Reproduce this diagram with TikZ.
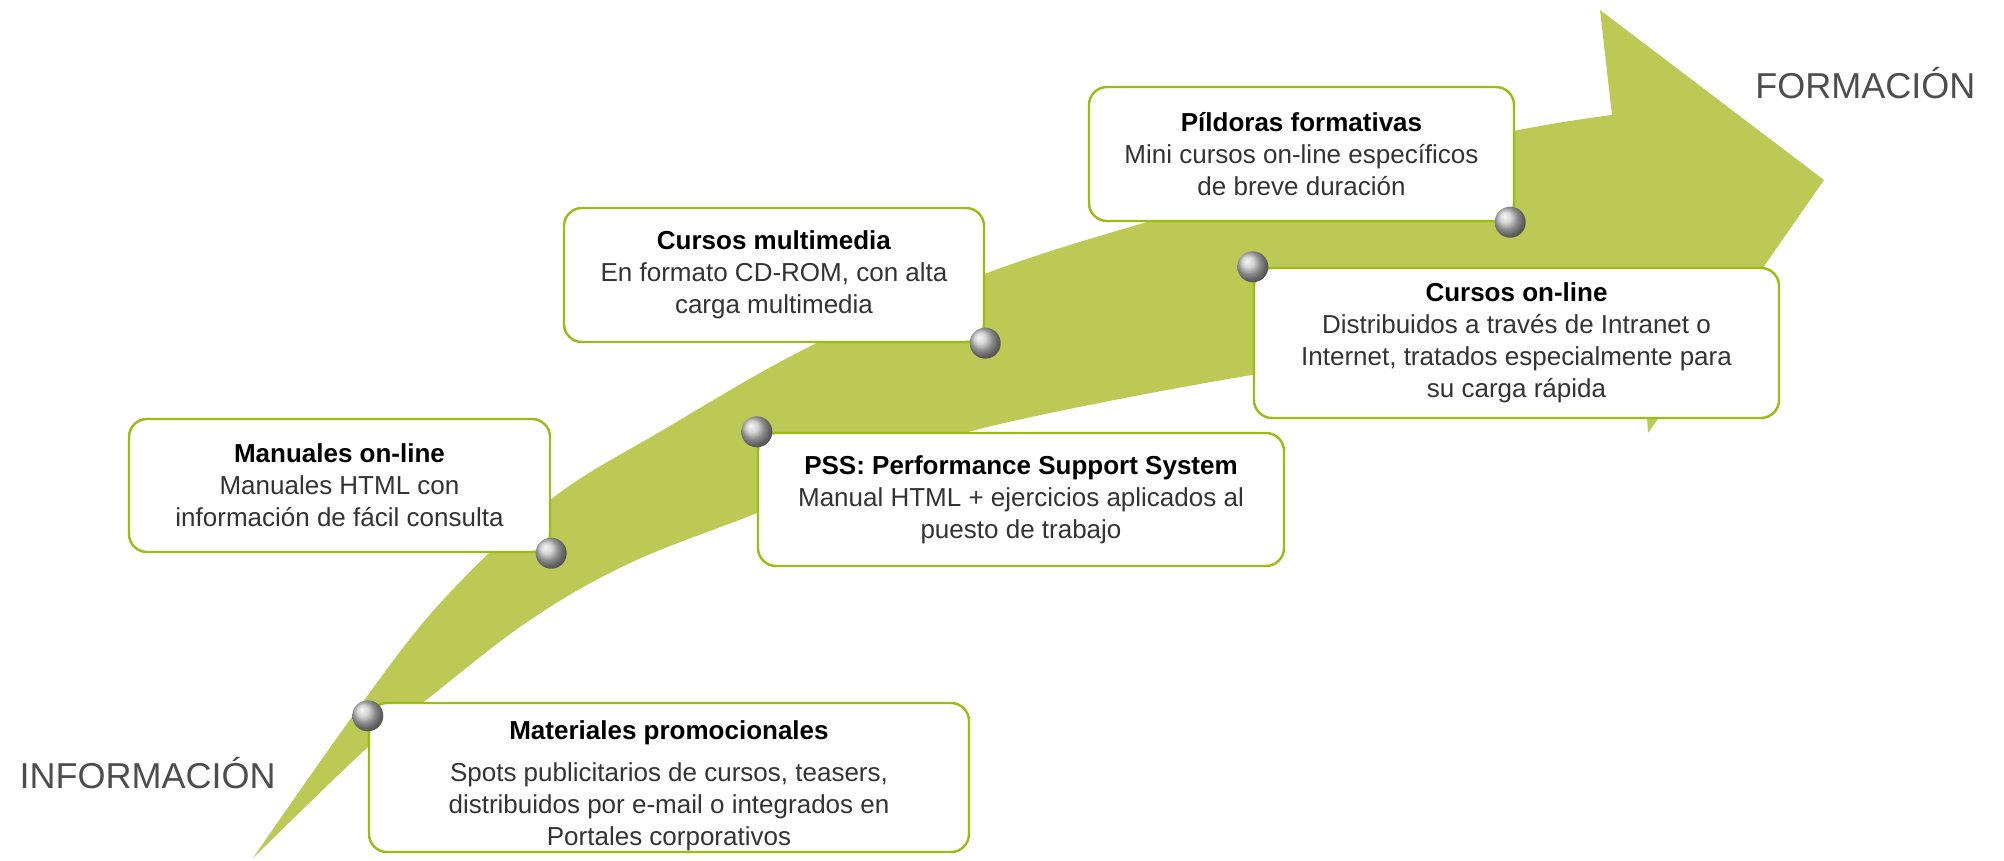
\documentclass[tikz,border=0pt]{standalone}
\usepackage{fontspec}
\setmainfont{Liberation Sans}
\definecolor{arrowgreen}{RGB}{188,201,84}
\definecolor{boxgreen}{RGB}{158,186,20}
\definecolor{textgray}{RGB}{51,51,51}
\definecolor{labelgray}{RGB}{77,77,77}
\newcommand{\ttl}[1]{\textcolor{black}{\textbf{#1}}}

\begin{document}
\begin{tikzpicture}[x=0.5pt,y=-0.5pt,
  box/.style={draw=boxgreen,line width=1.2pt,fill=white,rounded corners=9pt,align=center,
    font=\fontsize{13}{16}\selectfont,text=textgray,inner sep=0pt},
  ball/.style={circle,shading=ball,ball color=gray!45,minimum size=15.5pt,inner sep=0pt},
  endlabel/.style={font=\fontsize{18}{22}\selectfont,text=labelgray,inner sep=0pt}]
\useasboundingbox (0,0) rectangle (2004,861);

% the big arrow
\fill[arrowgreen] plot[smooth,tension=0.6] coordinates {(253,858) (357,710) (443,600) (550,500) (663,430) (817,343) (987,273) (1137,225) (1320,175) (1514,131) (1612,115)}
  -- (1600,10) -- (1824,180) -- (1648,433)
  -- plot[smooth,tension=0.6] coordinates {(1642,335) (1450,350) (1252,375) (1000,424) (880,462) (757,513) (630,563) (530,620) (430,697) (368,747) (253,858)} -- cycle;

\node[box,minimum width=210.5pt,minimum height=66.5pt] (man) at (339.5,485.5) {\ttl{Manuales on-line}\\Manuales HTML con\\información de fácil consulta};
\node[box,minimum width=300pt,minimum height=74.5pt] (mat) at (669,777.5) {\rule{0pt}{17.5pt}\ttl{Materiales promocionales}\\[5pt]Spots publicitarios de cursos, teasers,\\distribuidos por e-mail o integrados en\\Portales corporativos};
\node[box,minimum width=210pt,minimum height=67pt] (mul) at (774,275) {\ttl{Cursos multimedia}\\En formato CD-ROM, con alta\\carga multimedia};
\node[box,minimum width=263pt,minimum height=66.5pt] (pss) at (1021,499.5) {\ttl{PSS: Performance Support System}\\Manual HTML + ejercicios aplicados al\\puesto de trabajo};
\node[box,minimum width=212.5pt,minimum height=67pt] (pil) at (1301.5,154) {\ttl{Píldoras formativas}\\Mini cursos on-line específicos\\de breve duración};
\node[box,minimum width=262.5pt,minimum height=75pt] (onl) at (1516.5,343) {\ttl{Cursos on-line}\\Distribuidos a través de Intranet o\\Internet, tratados especialmente para\\su carga rápida};

\node[ball] (b1) at ([yshift=-7pt]mat.north west) {};
\node[ball] (b2) at (man.south east) {};
\node[ball] (b3) at (pss.north west) {};
\node[ball] (b4) at (mul.south east) {};
\node[ball] (b5) at (onl.north west) {};
\node[ball] (b6) at ([xshift=-2.5pt]pil.south east) {};

\node[endlabel,anchor=base east] (info) at (276,788) {INFORMACIÓN};
\node[endlabel,anchor=base west] (form) at (1755,99) {FORMACIÓN};
\end{tikzpicture}
\end{document}
